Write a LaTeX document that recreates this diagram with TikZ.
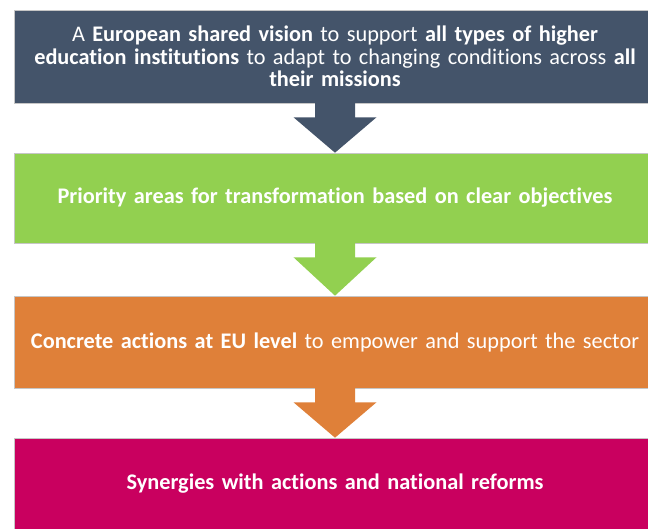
\documentclass[tikz,border=0pt]{standalone}
\usepackage{fontspec}
\setmainfont[Ligatures={NoCommon}]{Carlito}
\usetikzlibrary{calc}
\definecolor{cslate}{HTML}{44546A}
\definecolor{cgreen}{HTML}{92D050}
\definecolor{corange}{HTML}{DF8039}
\definecolor{cmagenta}{HTML}{C9005F}
\tikzset{
  stagebox/.style={rectangle, minimum width=642pt, text width=634pt, align=center,
    text=white, inner sep=0pt, draw=gray!45, line width=0.6pt, font=\fontsize{22.3}{22.5}\selectfont}
}
\newcommand{\downarrowshape}[3]{%
  % #1 from node, #2 to node, #3 colour
  \fill[#3] ($(#1.south)+(-20pt,0.5pt)$) -- ($(#1.south)+(20pt,0.5pt)$)
    -- ($(#1.south)+(20pt,-14pt)$) -- ($(#1.south)+(41.5pt,-14pt)$)
    -- (#2.north) -- ($(#1.south)+(-41.5pt,-14pt)$) -- ($(#1.south)+(-20pt,-14pt)$) -- cycle;
}
\begin{document}
\begin{tikzpicture}[x=1pt,y=-1pt]
\useasboundingbox[fill=white] (0,0) rectangle (648,528);
\node[stagebox, fill=cslate, minimum height=93pt] (b1) at (335,56.5)
  {A \textbf{European shared vision} to support \textbf{all types of higher}\\
   \textbf{education institutions} to adapt to changing conditions across \textbf{all}\\
   \textbf{their missions}};
\node[stagebox, fill=cgreen, minimum height=90pt] (b2) at (335,198)
  {\textbf{Priority areas for transformation based on clear objectives}};
\node[stagebox, fill=corange, minimum height=92pt] (b3) at (335,342)
  {\textbf{Concrete actions at EU level} to empower and support the sector};
\node[stagebox, fill=cmagenta, minimum height=92pt] (b4) at (335,484)
  {\textbf{Synergies with actions and national reforms}};
\downarrowshape{b1}{b2}{cslate}
\downarrowshape{b2}{b3}{cgreen}
\downarrowshape{b3}{b4}{corange}
\end{tikzpicture}
\end{document}
